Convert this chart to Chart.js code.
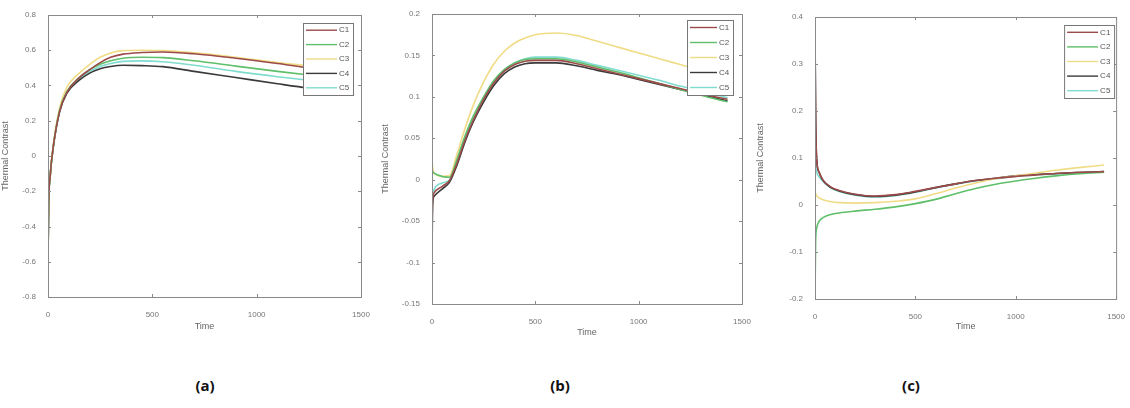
<!DOCTYPE html>
<html>
<head>
<meta charset="utf-8">
<script src="https://cdn.jsdelivr.net/npm/chart.js@4.4.1/dist/chart.umd.min.js"></script>
<style>
  html, body { margin: 0; padding: 0; background: #fff; }
  body { width: 1130px; height: 408px; position: relative; overflow: hidden; }
  canvas { position: absolute; top: 0; }
  .cap { position: absolute; top: 375px; font: bold 15px "Open Sans", "Noto Sans", sans-serif; color: #111; transform: translateX(-50%); }
</style>
</head>
<body>
<canvas id="chartA" width="375" height="340" style="left:0px"></canvas>
<canvas id="chartB" width="380" height="345" style="left:380px"></canvas>
<canvas id="chartC" width="375" height="340" style="left:755px"></canvas>
<div class="cap" style="left:205px">(a)</div>
<div class="cap" style="left:560px">(b)</div>
<div class="cap" style="left:911px">(c)</div>
<script>
// ── Data ──
const SERIES = ["C1", "C2", "C3", "C4", "C5"];
const COLORS = ["#9c4a4a", "#5fbf6a", "#f0dc86", "#3a3a3a", "#7fdccf"];
const xTicks = [0, 500, 1000, 1500];

// panel (a)
const tA  = [0, 3, 10, 25, 55, 90, 150, 200, 250, 300, 360, 450, 550, 700, 900, 1100, 1250, 1430];
const aC1 = [-0.6, -0.28, -0.12, 0.05, 0.25, 0.36, 0.445, 0.49, 0.53, 0.56, 0.578, 0.587, 0.59, 0.58, 0.555, 0.525, 0.5, 0.475];
const aC2 = [-0.6, -0.28, -0.12, 0.05, 0.255, 0.365, 0.445, 0.49, 0.52, 0.54, 0.555, 0.56, 0.558, 0.54, 0.51, 0.48, 0.46, 0.44];
const aC3 = [-0.6, -0.28, -0.12, 0.06, 0.27, 0.39, 0.47, 0.52, 0.56, 0.585, 0.598, 0.6, 0.598, 0.585, 0.56, 0.53, 0.51, 0.48];
const aC4 = [-0.6, -0.28, -0.12, 0.05, 0.25, 0.355, 0.43, 0.47, 0.495, 0.508, 0.515, 0.513, 0.507, 0.48, 0.445, 0.41, 0.385, 0.36];
const aC5 = [-0.6, -0.28, -0.12, 0.05, 0.25, 0.36, 0.44, 0.48, 0.508, 0.525, 0.537, 0.54, 0.535, 0.515, 0.48, 0.45, 0.43, 0.41];
const yTicksA = [-0.8, -0.6, -0.4, -0.2, 0, 0.2, 0.4, 0.6, 0.8];

// panel (b)
const tB  = [0, 3, 10, 50, 85, 120, 160, 200, 250, 300, 350, 400, 450, 500, 600, 700, 800, 900, 1000, 1100, 1200, 1300, 1430];
const bC1 = [-0.06, -0.025, -0.016, -0.008, -0.001, 0.019, 0.048, 0.072, 0.097, 0.117, 0.131, 0.139, 0.143, 0.144, 0.144, 0.14, 0.134, 0.128, 0.122, 0.116, 0.11, 0.104, 0.097];
const bC2 = [0.012, 0.01, 0.008, 0.004, 0.003, 0.024, 0.053, 0.077, 0.1, 0.12, 0.133, 0.141, 0.145, 0.146, 0.146, 0.142, 0.136, 0.13, 0.123, 0.116, 0.109, 0.102, 0.094];
const bC3 = [0.025, 0.015, 0.008, 0.004, 0.005, 0.03, 0.062, 0.09, 0.118, 0.14, 0.155, 0.165, 0.171, 0.175, 0.177, 0.174, 0.167, 0.16, 0.153, 0.146, 0.139, 0.132, 0.124];
const bC4 = [-0.09, -0.03, -0.02, -0.011, -0.003, 0.017, 0.046, 0.07, 0.094, 0.114, 0.128, 0.136, 0.14, 0.141, 0.141, 0.1375, 0.132, 0.127, 0.121, 0.115, 0.109, 0.103, 0.095];
const bC5 = [-0.04, -0.02, -0.012, -0.004, 0.0, 0.021, 0.05, 0.074, 0.099, 0.119, 0.133, 0.141, 0.146, 0.148, 0.148, 0.144, 0.138, 0.132, 0.126, 0.12, 0.113, 0.107, 0.099];
const yTicksB = [-0.15, -0.1, -0.05, 0, 0.05, 0.1, 0.15, 0.2];

// panel (c)
const tC  = [0, 3, 8, 20, 40, 80, 120, 200, 300, 400, 500, 600, 700, 800, 900, 1000, 1100, 1200, 1300, 1440];
const cC1 = [0.36, 0.19, 0.1, 0.07, 0.053, 0.038, 0.031, 0.023, 0.019, 0.022, 0.029, 0.037, 0.045, 0.052, 0.057, 0.061, 0.064, 0.067, 0.069, 0.071];
const cC2 = [-0.2, -0.08, -0.05, -0.035, -0.027, -0.02, -0.017, -0.013, -0.009, -0.004, 0.003, 0.012, 0.024, 0.035, 0.044, 0.051, 0.057, 0.062, 0.066, 0.07];
const cC3 = [0.03, 0.025, 0.02, 0.015, 0.011, 0.007, 0.005, 0.004, 0.005, 0.008, 0.013, 0.024, 0.036, 0.047, 0.056, 0.062, 0.068, 0.074, 0.079, 0.085];
const cC4 = [0.38, 0.2, 0.1, 0.07, 0.052, 0.037, 0.03, 0.022, 0.018, 0.021, 0.028, 0.037, 0.045, 0.052, 0.057, 0.062, 0.065, 0.067, 0.069, 0.071];
const cC5 = [0.1, 0.085, 0.07, 0.06, 0.05, 0.036, 0.029, 0.021, 0.017, 0.02, 0.027, 0.036, 0.044, 0.051, 0.056, 0.061, 0.064, 0.066, 0.068, 0.07];
const yTicksC = [-0.2, -0.1, 0, 0.1, 0.2, 0.3, 0.4];

const FONT = "Liberation Sans, Arial, sans-serif";
const AXIS_GRAY = "#8a8a8a";

// plain number labels, no thousands separator, no trailing zeros
const fmt = v => String(Math.round(v * 1000) / 1000);

// ── Box, inward ticks and boxed legend (MATLAB look) ──
const matlabBox = {
  id: "matlabBox",
  afterDatasetsDraw(chart, args, opts) {
    const { ctx, chartArea: a, scales } = chart;
    ctx.save();
    ctx.strokeStyle = AXIS_GRAY;
    ctx.lineWidth = 1;
    ctx.strokeRect(a.left + 0.5, a.top + 0.5, a.right - a.left, a.bottom - a.top);
    ctx.beginPath();
    scales.x.ticks.forEach(t => {
      const px = Math.round(scales.x.getPixelForValue(t.value)) + 0.5;
      ctx.moveTo(px, a.bottom); ctx.lineTo(px, a.bottom - 3);
      ctx.moveTo(px, a.top); ctx.lineTo(px, a.top + 3);
    });
    scales.y.ticks.forEach(t => {
      const py = Math.round(scales.y.getPixelForValue(t.value)) + 0.5;
      ctx.moveTo(a.left, py); ctx.lineTo(a.left + 3, py);
      ctx.moveTo(a.right, py); ctx.lineTo(a.right - 3, py);
    });
    ctx.stroke();

    // legend box
    const L = opts.legend;
    const bx = a.right - L.right - L.w, by = a.top + L.top;
    ctx.fillStyle = "#fff";
    ctx.fillRect(bx, by, L.w, L.h);
    ctx.strokeStyle = "#777";
    ctx.strokeRect(bx + 0.5, by + 0.5, L.w, L.h);
    const step = L.h / chart.data.datasets.length;
    ctx.font = "8px " + FONT;
    ctx.textBaseline = "middle";
    chart.data.datasets.forEach((ds, i) => {
      const yy = by + step * (i + 0.5);
      ctx.strokeStyle = ds.borderColor;
      ctx.lineWidth = 1.4;
      ctx.beginPath();
      ctx.moveTo(bx + 3, yy); ctx.lineTo(bx + L.w - 16, yy);
      ctx.stroke();
      ctx.fillStyle = "#555";
      ctx.fillText(ds.label, bx + L.w - 14, yy);
    });
    ctx.restore();
  }
};

function makeChart(id, times, series, yTicks, yMin, yMax, box) {
  const datasets = series.map((vals, i) => ({
    label: SERIES[i],
    data: times.map((t, j) => ({ x: t, y: vals[j] })),
    borderColor: COLORS[i],
    borderWidth: 1.6,
    pointRadius: 0,
    cubicInterpolationMode: "monotone",
    fill: false
  }));

  return new Chart(document.getElementById(id), {
    type: "line",
    data: { datasets },
    options: {
      responsive: false,
      animation: false,
      layout: { padding: { top: box.top, right: box.right, bottom: box.bottom, left: 0 } },
      plugins: {
        legend: { display: false },
        tooltip: { enabled: false },
        matlabBox: { legend: box.legend }
      },
      scales: {
        x: {
          type: "linear",
          min: 0, max: 1500,
          afterBuildTicks: s => { s.ticks = xTicks.map(v => ({ value: v })); },
          afterFit: s => { s.height = box.xh; },
          grid: { display: false },
          border: { display: false },
          ticks: { font: { size: 8, family: FONT }, color: "#777", padding: 5, maxRotation: 0, callback: fmt },
          title: { display: true, text: "Time", font: { size: 9, family: FONT }, color: "#666", padding: { top: 2, bottom: 0 } }
        },
        y: {
          min: yMin, max: yMax,
          afterBuildTicks: s => { s.ticks = yTicks.map(v => ({ value: v })); },
          afterFit: s => { s.width = box.yw; },
          grid: { display: false },
          border: { display: false },
          ticks: { font: { size: 8, family: FONT }, color: "#777", padding: 4, callback: fmt },
          title: { display: true, text: "Thermal Contrast", font: { size: 9, family: FONT }, color: "#666", padding: { top: 0, bottom: 4 } }
        }
      }
    },
    plugins: [matlabBox]
  });
}

// ── Init ──
makeChart("chartA", tA, [aC1, aC2, aC3, aC4, aC5], yTicksA, -0.8, 0.8,
  { top: 15, right: 14, bottom: 8, xh: 35, yw: 48, legend: { right: 8, top: 8, w: 50, h: 72 } });
makeChart("chartB", tB, [bC1, bC2, bC3, bC4, bC5], yTicksB, -0.15, 0.2,
  { top: 14, right: 18, bottom: 7, xh: 34, yw: 52, legend: { right: 9, top: 6, w: 46, h: 75 } });
makeChart("chartC", tC, [cC1, cC2, cC3, cC4, cC5], yTicksC, -0.2, 0.4,
  { top: 17, right: 12, bottom: 8, xh: 33, yw: 60, legend: { right: 2, top: 8, w: 50, h: 73 } });
</script>
</body>
</html>
